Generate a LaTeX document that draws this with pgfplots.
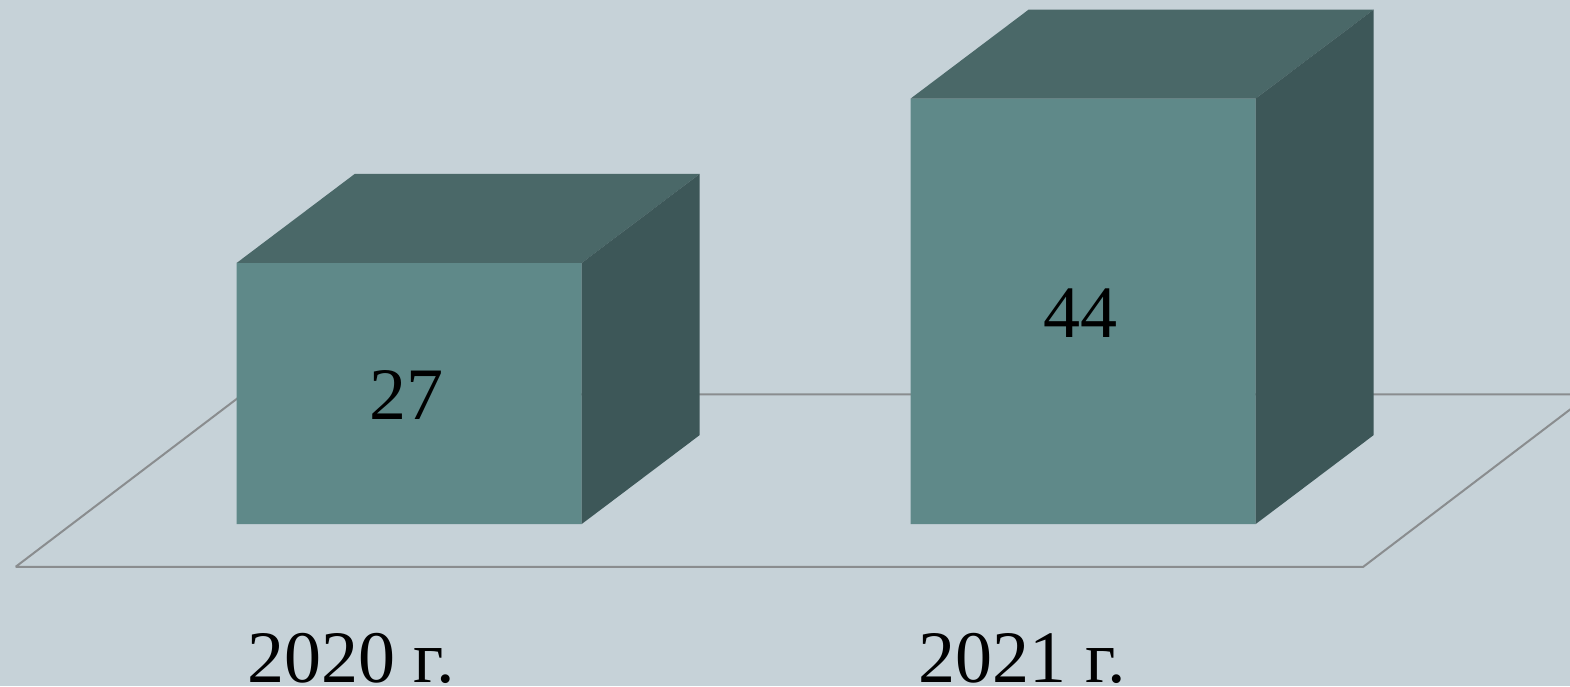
\documentclass[border=0pt]{standalone}
\usepackage{pgfplots}
\pgfplotsset{compat=1.18}
\usepackage{fontspec}
\setmainfont{Liberation Serif}
\definecolor{bgc}{RGB}{198,210,216}
\definecolor{frontc}{RGB}{95,137,137}
\definecolor{topc}{RGB}{74,104,104}
\definecolor{sidec}{RGB}{61,87,88}
\definecolor{floorc}{RGB}{138,141,143}
\begin{document}
\begin{tikzpicture}
\begin{axis}[
  scale only axis, width=785pt, height=343pt,
  xmin=0, xmax=1570, ymin=-16.75, ymax=54.19,
  axis background/.style={fill=bgc},
  axis line style={draw=none},
  major tick length=0pt,
  ytick=\empty,
  xtick={351,1022},
  xticklabels={2020 г.,2021 г.},
  xticklabel style={anchor=base, inner sep=0pt, yshift=2pt, font=\fontsize{37}{40}\selectfont, text=black},
  clip=true,
]
\coordinate (bl) at (rel axis cs:0,0);
\coordinate (tr) at (rel axis cs:1,1);
% floor
\addplot[draw=floorc, line width=1pt] coordinates {(15.7,-4.42) (1363.3,-4.42) (1590,13.41) (242.7,13.41) (15.7,-4.42)};
% front faces
\addplot[ybar, bar width=345, fill=frontc, draw=none] coordinates {(409.2,27) (1083.2,44)};
% top faces
\addplot[fill=topc, draw=none] coordinates {(236.7,27) (581.7,27) (699.7,36.2) (354.7,36.2)};
\addplot[fill=topc, draw=none] coordinates {(910.7,44) (1255.7,44) (1373.7,53.2) (1028.7,53.2)};
% side faces
\addplot[fill=sidec, draw=none] coordinates {(581.7,0) (581.7,27) (699.7,36.2) (699.7,9.2)};
\addplot[fill=sidec, draw=none] coordinates {(1255.7,0) (1255.7,44) (1373.7,53.2) (1373.7,9.2)};
% value labels
\addplot[draw=none, mark=none, nodes near coords, point meta=explicit symbolic,
  every node near coord/.append style={anchor=center, inner sep=0pt, text=black, font=\fontsize{37}{40}\selectfont}]
  coordinates {(406.7,13.31)[27] (1080,21.8)[44]};
\end{axis}
\pgfresetboundingbox
\useasboundingbox (bl) rectangle (tr);
\end{tikzpicture}
\end{document}
